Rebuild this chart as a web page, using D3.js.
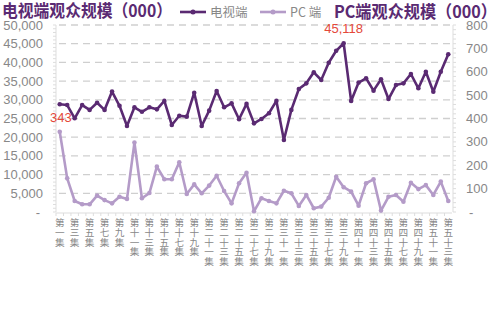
<!DOCTYPE html>
<html><head><meta charset="utf-8">
<script src="https://cdn.jsdelivr.net/npm/d3@7"></script>
<style>
body{margin:0;background:#fff;}
svg{display:block;}
text{font-family:"Liberation Sans",Arial,sans-serif;}
.cjk{font-family:"Noto Sans CJK SC","Noto Sans",sans-serif;}
</style></head>
<body><svg id="c" width="500" height="323"></svg>
<script>
const cn = ["一","二","三","四","五","六","七","八","九"];
function num(n){ if(n<10) return cn[n-1]; const t=Math.floor(n/10), u=n%10; return (t===1?"":cn[t-1])+"十"+(u?cn[u-1]:""); }
const episodes = d3.range(1,54).map(i=>"第"+num(i)+"集");
const tvValues = [28800,28600,25050,28600,27300,29200,27300,32200,28400,23000,28000,26800,28000,27450,29700,23260,25750,25500,31900,23000,27100,32350,28000,29050,24800,28900,23700,24870,26400,29700,19250,27300,32900,34400,37350,35300,39900,43100,45118,29700,34600,35750,32450,35480,30200,33950,34400,36900,33070,37500,32170,37500,42170];
const pcValues = [343,144,47,33,33,70,51,37,65,56,297,59,81,194,140,140,213,77,118,80,113,155,90,37,123,168,3,59,47,37,91,80,26,73,16,23,61,151,106,87,27,123,140,6,65,73,44,125,98,115,73,130,47];
const leftTicks = [0,5000,10000,15000,20000,25000,30000,35000,40000,45000,50000];
const rightTicks = [0,100,200,300,400,500,600,700,800];
const seriesNames = ["电视端","PC 端"];

const tvColor="#5a2a72", pcColor="#b49bc8", grey="#888", red="#e4483a";
const svg=d3.select("#c");
const L=56,R=452,T=25,B=212;
const x=d3.scaleBand().domain(episodes).range([L,R]);
const yL=d3.scaleLinear().domain([0,50000]).range([B,T]);
const yR=d3.scaleLinear().domain([0,800]).range([B,T]);
const cx=d=>x(d)+x.bandwidth()/2;

// gridlines
svg.append("g").selectAll("line").data(leftTicks.filter(d=>d>0)).join("line")
 .attr("x1",L+3).attr("x2",R).attr("y1",d=>yL(d)).attr("y2",d=>yL(d))
 .attr("stroke","#cfcfcf").attr("stroke-width",1.3).attr("stroke-dasharray","7,5");

// left axis
const la=svg.append("g");
la.append("line").attr("x1",L).attr("x2",L).attr("y1",T).attr("y2",B).attr("stroke","#ddd");
la.selectAll(".m").data(d3.range(0,50001,1000)).join("line").attr("x1",L-3).attr("x2",L)
 .attr("y1",d=>yL(d)).attr("y2",d=>yL(d)).attr("stroke","#ddd");
la.selectAll("text").data(leftTicks).join("text").attr("x",d=>d===0?40:43).attr("y",d=>yL(d)+4.5)
 .attr("text-anchor","end").attr("font-size",13).attr("fill",grey)
 .text(d=>d===0?"-":d3.format(",")(d));

// right axis
const ra=svg.append("g");
ra.append("line").attr("x1",R+1).attr("x2",R+1).attr("y1",T).attr("y2",B).attr("stroke","#ddd");
ra.selectAll(".m").data(d3.range(0,801,20)).join("line").attr("x1",R+1).attr("x2",R+4)
 .attr("y1",d=>yR(d)).attr("y2",d=>yR(d)).attr("stroke","#ddd");
ra.selectAll("text").data(rightTicks).join("text").attr("x",d=>d===0?469:466).attr("y",d=>yR(d)+4.5)
 .attr("font-size",13).attr("fill",grey).text(d=>d===0?"-":d);

// x axis
const xa=svg.append("g");
xa.append("line").attr("x1",L).attr("x2",R).attr("y1",B+1).attr("y2",B+1).attr("stroke","#ddd");
xa.selectAll(".t").data(episodes).join("line").attr("x1",d=>x(d)).attr("x2",d=>x(d))
 .attr("y1",B+1).attr("y2",B+4).attr("stroke","#ddd");
xa.selectAll("text").data(episodes.filter((d,i)=>i%2===0)).join("text")
 .attr("class","cjk").attr("x",d=>cx(d)).attr("y",B+6)
 .attr("font-size",9.6).attr("fill",grey)
 .style("writing-mode","vertical-rl").style("text-orientation","upright")
 .text(d=>d);

// lines
const lineTV=d3.line().x((d,i)=>cx(episodes[i])).y(d=>yL(d));
const linePC=d3.line().x((d,i)=>cx(episodes[i])).y(d=>yR(d));
svg.append("path").attr("d",linePC(pcValues)).attr("fill","none").attr("stroke",pcColor).attr("stroke-width",2.6).attr("stroke-linejoin","round");
svg.append("g").selectAll("circle").data(pcValues).join("circle").attr("cx",(d,i)=>cx(episodes[i])).attr("cy",d=>yR(d)).attr("r",2.3).attr("fill",pcColor);
svg.append("path").attr("d",lineTV(tvValues)).attr("fill","none").attr("stroke",tvColor).attr("stroke-width",2.6).attr("stroke-linejoin","round");
svg.append("g").selectAll("circle").data(tvValues).join("circle").attr("cx",(d,i)=>cx(episodes[i])).attr("cy",d=>yL(d)).attr("r",2.3).attr("fill",tvColor);

// data labels
const iMaxTV=d3.maxIndex(tvValues), iMaxPC=d3.maxIndex(pcValues);
svg.append("text").attr("x",cx(episodes[iMaxTV])).attr("y",yL(tvValues[iMaxTV])-10).attr("text-anchor","middle")
 .attr("font-size",13).attr("fill",red).text(d3.format(",")(tvValues[iMaxTV]));
svg.append("text").attr("x",cx(episodes[iMaxPC])+12).attr("y",yR(pcValues[iMaxPC])-10).attr("text-anchor","end")
 .attr("font-size",13).attr("fill",red).text(pcValues[iMaxPC]);

// titles
svg.append("text").attr("class","cjk").attr("x",2).attr("y",17).attr("font-size",17).attr("font-weight","bold")
 .attr("fill",tvColor).attr("textLength",170).attr("lengthAdjust","spacingAndGlyphs").text("电视端观众规模（000）");
svg.append("text").attr("class","cjk").attr("x",334).attr("y",18).attr("font-size",17).attr("font-weight","bold")
 .attr("fill",tvColor).attr("textLength",163).attr("lengthAdjust","spacingAndGlyphs").text("PC端观众规模（000）");

// legend
const lg=[{n:seriesNames[0],c:tvColor,x:180},{n:seriesNames[1],c:pcColor,x:260}];
const g=svg.append("g").selectAll("g").data(lg).join("g");
g.append("line").attr("x1",d=>d.x).attr("x2",d=>d.x+26).attr("y1",12).attr("y2",12).attr("stroke",d=>d.c).attr("stroke-width",2.6);
g.append("circle").attr("cx",d=>d.x+13).attr("cy",12).attr("r",2.5).attr("fill",d=>d.c);
g.append("text").attr("class","cjk").attr("x",d=>d.x+30).attr("y",16.5).attr("font-size",12.5).attr("fill",grey).text(d=>d.n);
</script></body></html>
